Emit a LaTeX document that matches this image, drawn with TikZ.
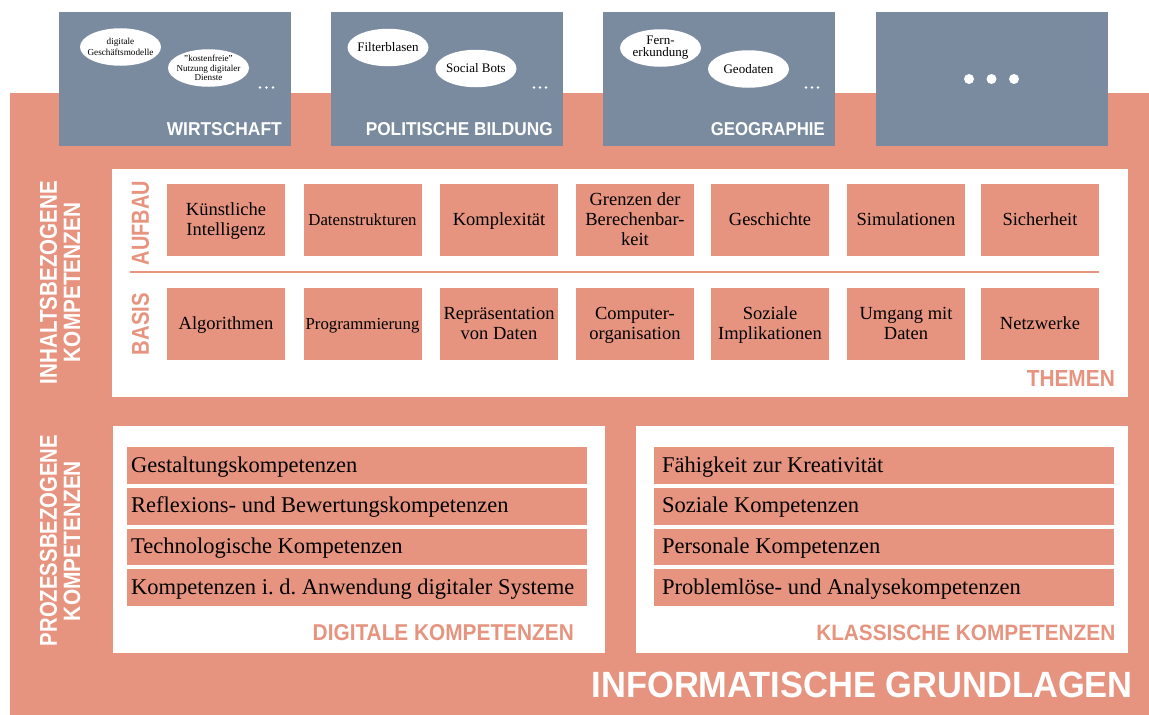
\documentclass[tikz,border=0pt]{standalone}
\usepackage{fontspec}
\usepackage{graphicx}
\setmainfont{Liberation Serif}
\newfontfamily\hdfont{Liberation Sans}
\usetikzlibrary{shapes.geometric}
\definecolor{salmon}{HTML}{E6947F}
\definecolor{slate}{HTML}{7A8B9F}
\hyphenpenalty=10000
\newcommand\hdtxt[3]{\resizebox{#1pt}{#2pt}{\hdfont\bfseries #3}}
\newcommand\ts{\rule[-4.5pt]{0pt}{20pt}}
\newcommand\nsp{\spaceskip=0pt\xspaceskip=0pt\relax}
\begin{document}
\begin{tikzpicture}[x=1pt,y=-1pt,
  topic/.style={fill=salmon, minimum width=118pt, minimum height=72pt, inner sep=0pt, align=center, font=\fontsize{18.5}{20}\selectfont, execute at begin node=\nsp},
  topicsm/.style={topic, font=\fontsize{16.8}{20}\selectfont},
  rowl/.style={fill=salmon, anchor=north west, inner ysep=0pt, inner xsep=4.5pt, text height=25pt, text depth=11.7pt, text width=451.5pt, align=left, font=\fontsize{22.5}{27}\selectfont, execute at begin node=\nsp},
  rowr/.style={rowl, inner xsep=8pt, text width=444pt},
  bub/.style={ellipse, fill=white, minimum width=81pt, minimum height=37.5pt, inner sep=0pt},
  bubt/.style={inner sep=0pt, align=center, font=\fontsize{13}{12}\selectfont, execute at begin node=\nsp},
  bubtsm/.style={bubt, font=\fontsize{9.2}{10.5}\selectfont},
  hd/.style={inner sep=0pt, text=white},
  hdc/.style={inner sep=0pt, text=salmon},
  panel/.style={fill=white, inner sep=0pt, anchor=north west},
  area/.style={fill=slate, inner sep=0pt, anchor=north west, minimum width=232pt, minimum height=134pt},
]
\useasboundingbox (0,0) rectangle (1149,715);
% base
\fill[salmon] (10,93) rectangle (1149,715);

% subject areas
\node[area] (wi) at (59,12) {};
\node[area] (pb) at (331,12) {};
\node[area] (ge) at (603,12) {};
\node[area] (mo) at (876,12) {};

\node[bub] (b1) at (120.5,47) {};
\node[bubtsm] (b1t) at (b1) {digitale\\Geschäftsmodelle};
\node[bub] (b2) at (208.5,68) {};
\node[bubtsm, font=\fontsize{9.1}{9.3}\selectfont] (b2t) at (b2) {"kostenfreie"\\Nutzung digitaler\\Dienste};
\node[bub] (b3) at (388,47.5) {};
\node[bubt] (b3t) at (b3) {Filterblasen};
\node[bub] (b4) at (476,68.5) {};
\node[bubt] (b4t) at (b4) {Social Bots};
\node[bub] (b5) at (660.5,48) {};
\node[bubt] (b5t) at (b5) {Fern-\\erkundung};
\node[bub] (b6) at (748.5,69) {};
\node[bubt] (b6t) at (b6) {Geodaten};

\foreach \x in {260,266.5,273,534,540,546,806,812,818}
  \fill[white] (\x,87.5) circle (1.4pt);
\foreach \x in {969,991.5,1014}
  \fill[white] (\x,79) circle (5pt);

\node[hd, anchor=south east] (twi) at (282,136) {\hdtxt{115}{13}{WIRTSCHAFT}};
\node[hd, anchor=south east] (tpb) at (553,136) {\hdtxt{187}{13}{POLITISCHE BILDUNG}};
\node[hd, anchor=south east] (tge) at (825,136) {\hdtxt{114}{13}{GEOGRAPHIE}};

% left side labels
\node[hd, rotate=90] (ik1) at (48.5,282.5) {\hdtxt{203}{17}{INHALTSBEZOGENE}};
\node[hd, rotate=90] (ik2) at (72,282.5) {\hdtxt{159}{16.5}{KOMPETENZEN}};
\node[hd, rotate=90] (pk1) at (48.5,540.5) {\hdtxt{211}{17}{PROZESSBEZOGENE}};
\node[hd, rotate=90] (pk2) at (72,541) {\hdtxt{160}{16.5}{KOMPETENZEN}};

% themen panel
\node[panel, minimum width=1016pt, minimum height=228pt] (themen) at (112,169) {};
\draw[salmon, line width=2.3pt] (130,272) -- (1099,272);
\node[hdc, rotate=90] (auf) at (140.5,223) {\hdtxt{84}{17}{AUFBAU}};
\node[hdc, rotate=90] (bas) at (140.5,324) {\hdtxt{62}{17}{BASIS}};
\node[hdc, anchor=south east] (tth) at (1115,387) {\hdtxt{88}{16}{THEMEN}};

\node[topic] (a1) at (226,220) {\ts Künstliche\\\ts Intelligenz};
\node[topicsm] (a2) at (362.5,220) {\ts Datenstrukturen};
\node[topic] (a3) at (499,220) {\ts Komplexität};
\node[topic] (a4) at (635,220) {\ts Grenzen der\\\ts Berechenbar-\\\ts keit};
\node[topic] (a5) at (770,220) {\ts Geschichte};
\node[topic] (a6) at (906,220) {\ts Simulationen};
\node[topic] (a7) at (1040,220) {\ts Sicherheit};

\node[topic] (c1) at (226,324) {\ts Algorithmen};
\node[topicsm] (c2) at (362.5,324) {\ts Programmierung};
\node[topic] (c3) at (499,324) {\ts Repräsentation\\\ts von Daten};
\node[topic] (c4) at (635,324) {\ts Computer-\\\ts organisation};
\node[topic] (c5) at (770,324) {\ts Soziale\\\ts Implikationen};
\node[topic] (c6) at (906,324) {\ts Umgang mit\\\ts Daten};
\node[topic] (c7) at (1040,324) {\ts Netzwerke};

% process competences
\node[panel, minimum width=492pt, minimum height=227pt] (dig) at (113,426) {};
\node[panel, minimum width=492pt, minimum height=227pt] (kla) at (636,426) {};

\node[rowl] (d1) at (126.5,447) {Gestaltungskompetenzen};
\node[rowl] (d2) at (126.5,487.7) {Reflexions- und Bewertungskompetenzen};
\node[rowl] (d3) at (126.5,528.3) {Technologische Kompetenzen};
\node[rowl] (d4) at (126.5,569) {Kompetenzen i.\ d.\ Anwendung digitaler Systeme};

\node[rowr] (k1) at (654,447) {Fähigkeit zur Kreativität};
\node[rowr] (k2) at (654,487.7) {Soziale Kompetenzen};
\node[rowr] (k3) at (654,528.3) {Personale Kompetenzen};
\node[rowr] (k4) at (654,569) {Problemlöse- und Analysekompetenzen};

\node[hdc, anchor=south east] (tdig) at (574,641) {\hdtxt{261}{16}{DIGITALE KOMPETENZEN}};
\node[hdc, anchor=south east] (tkla) at (1115.5,641) {\hdtxt{299}{15.5}{KLASSISCHE KOMPETENZEN}};

\node[hd, anchor=south east] (tinf) at (1133,698.5) {\hdtxt{541}{25.5}{INFORMATISCHE GRUNDLAGEN}};
\end{tikzpicture}
\end{document}
